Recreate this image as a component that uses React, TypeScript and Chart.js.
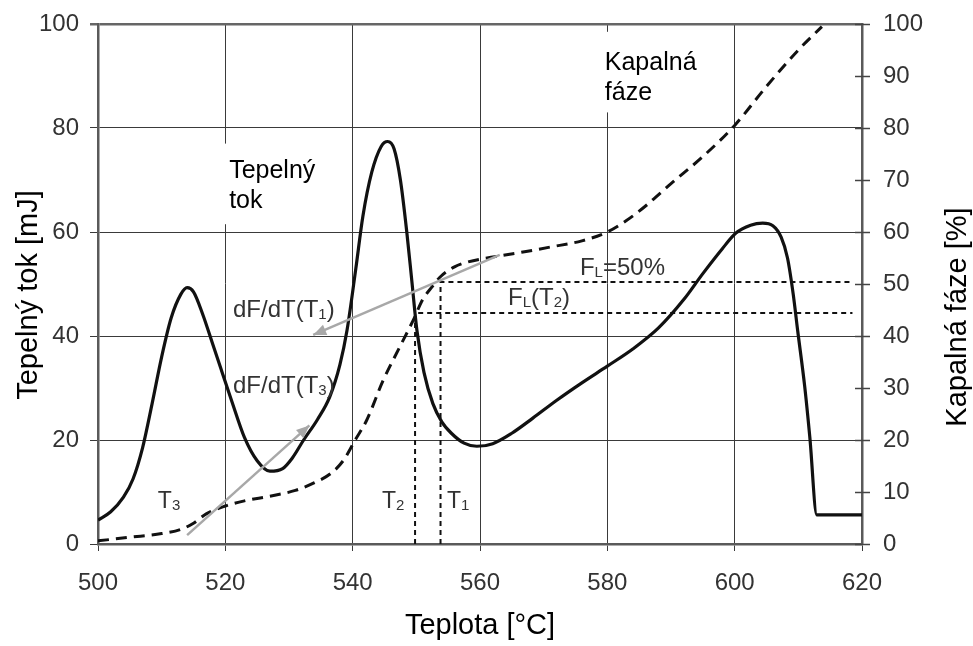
import React, { useEffect, useRef } from "react";
import { Chart, registerables } from "chart.js";
Chart.register(...registerables);

// Tepelný tok (heat flow) curve, left axis [mJ]
const heatTemp = [500, 502, 504, 505.5, 507, 508.5, 510, 511.5, 513, 514, 515, 516.5, 518, 519.5, 521, 523, 525, 527, 529, 530.5, 532.3, 534.5, 536.4, 538, 539.1, 540.5, 541.6, 543, 544.5, 545.5, 546.5, 547.5, 548.5, 549.3, 550.1, 551.2, 552.6, 554, 555.5, 557.5, 559.5, 562, 565, 568.3, 572, 576, 580, 584, 588, 592, 595, 598, 600.2, 602.5, 604.4, 606, 607.3, 608.3, 609.2, 609.9, 611, 611.8, 612.9, 620];
const heatFlow = [4.6, 6.2, 9, 12.5, 18.5, 27, 36, 43.5, 48, 49.3, 48.5, 44, 38.5, 33, 27.5, 20.5, 16, 14, 14.5, 16.5, 20, 24, 28.3, 34.5, 41, 53, 63, 71.5, 76.5, 77.4, 76, 70, 60, 50.5, 41, 33, 27, 23.5, 21.3, 19.4, 18.8, 19.3, 21.3, 24.2, 27.6, 31, 34.2, 37.5, 41.5, 47, 52, 56.7, 59.8, 61.3, 61.7, 61.2, 59, 55, 48, 41, 30.3, 20.6, 5.6, 5.6];

// Kapalná fáze (liquid fraction) curve, right axis [%]
const liquidTemp = [500, 505, 510, 513, 515, 517, 520, 523, 527, 531, 534, 536.5, 538.5, 540.4, 542.2, 544.8, 547.4, 549.5, 551, 552.5, 553.7, 556, 558, 563, 567, 571, 576, 580, 583, 586, 590, 595, 600, 605, 610, 613.7];
const liquidFrac = [0.6, 1.3, 2, 2.8, 4, 5.8, 7.3, 8.3, 9.2, 10.3, 11.8, 13.5, 16, 20, 23.8, 31.5, 37.9, 43, 47, 49.5, 51.3, 53.3, 54.2, 55.4, 56.2, 57.1, 58.3, 60, 62.2, 65, 69.3, 74.5, 80.5, 88, 95, 99.5];

// characteristic temperatures and fractions
const T1 = 553.8;
const T2 = 549.8;
const FL50 = 50.4;
const FLT2 = 44.4;
const refLineEnd = 618.5;

// tangent arrows [tail, tip]
const tangentT1 = [{ x: 563.1, y: 55.6 }, { x: 533.8, y: 40.2 }];
const tangentT3 = [{ x: 514, y: 1.7 }, { x: 533.2, y: 22.8 }];

const xTicks = [500, 520, 540, 560, 580, 600, 620];
const leftTicks = [0, 20, 40, 60, 80, 100];
const rightTicks = [0, 10, 20, 30, 40, 50, 60, 70, 80, 90, 100];

const xTitle = "Teplota [°C]";
const leftTitle = "Tepelný tok [mJ]";
const rightTitle = "Kapalná fáze [%]";

const FONT = '"Liberation Sans", Arial, Helvetica, sans-serif';

type Part = { t: string; sub?: boolean };
type Note = { x: number; y: number; parts: Part[]; size: number; color: string };

const notes: Note[] = [
  { x: 520.6, y: 70.4, parts: [{ t: "Tepelný" }], size: 25, color: "#000" },
  { x: 520.6, y: 64.6, parts: [{ t: "tok" }], size: 25, color: "#000" },
  { x: 579.6, y: 91.2, parts: [{ t: "Kapalná" }], size: 25, color: "#000" },
  { x: 579.6, y: 85.4, parts: [{ t: "fáze" }], size: 25, color: "#000" },
  { x: 521.2, y: 43.7, parts: [{ t: "dF/dT(T" }, { t: "1", sub: true }, { t: ")" }], size: 24, color: "#333" },
  { x: 521.2, y: 29.0, parts: [{ t: "dF/dT(T" }, { t: "3", sub: true }, { t: ")" }], size: 24, color: "#333" },
  { x: 509.4, y: 6.9, parts: [{ t: "T" }, { t: "3", sub: true }], size: 23, color: "#333" },
  { x: 544.6, y: 6.9, parts: [{ t: "T" }, { t: "2", sub: true }], size: 23, color: "#333" },
  { x: 554.8, y: 6.9, parts: [{ t: "T" }, { t: "1", sub: true }], size: 23, color: "#333" },
  { x: 575.7, y: 51.7, parts: [{ t: "F" }, { t: "L", sub: true }, { t: "=50%" }], size: 24, color: "#333" },
  { x: 564.4, y: 46.0, parts: [{ t: "F" }, { t: "L", sub: true }, { t: "(T" }, { t: "2", sub: true }, { t: ")" }], size: 24, color: "#333" },
];

// white boxes behind the two main labels (data coords: x0,x1,y0,y1)
const labelBoxes = [
  [519.5, 536.5, 61.5, 77],
  [579.0, 595.0, 83.0, 98.5],
];

function drawParts(ctx: CanvasRenderingContext2D, x: number, y: number, parts: Part[], size: number, color: string) {
  ctx.save();
  ctx.fillStyle = color;
  ctx.textBaseline = "alphabetic";
  ctx.textAlign = "left";
  let cx = x;
  for (const p of parts) {
    const s = p.sub ? Math.round(size * 0.64) : size;
    ctx.font = `${s}px ${FONT}`;
    ctx.fillText(p.t, cx, p.sub ? y + 2 : y);
    cx += ctx.measureText(p.t).width;
  }
  ctx.restore();
}

const decorPlugin = {
  id: "decor",
  beforeDatasetsDraw(chart: any) {
    const { ctx, scales } = chart;
    ctx.save();
    ctx.fillStyle = "#fff";
    for (const b of labelBoxes) {
      const x0 = scales.x.getPixelForValue(b[0]);
      const x1 = scales.x.getPixelForValue(b[1]);
      const y0 = scales.y.getPixelForValue(b[3]);
      const y1 = scales.y.getPixelForValue(b[2]);
      ctx.fillRect(x0, y0, x1 - x0, y1 - y0);
    }
    ctx.restore();
  },
  afterDatasetsDraw(chart: any) {
    const { ctx, scales, chartArea } = chart;
    // arrowheads
    for (const a of [tangentT1, tangentT3]) {
      const tx = scales.x.getPixelForValue(a[1].x);
      const ty = scales.y.getPixelForValue(a[1].y);
      const sx = scales.x.getPixelForValue(a[0].x);
      const sy = scales.y.getPixelForValue(a[0].y);
      const ang = Math.atan2(ty - sy, tx - sx);
      const L = 13, W = 5.5;
      ctx.save();
      ctx.fillStyle = "#a8a8a8";
      ctx.beginPath();
      ctx.moveTo(tx, ty);
      ctx.lineTo(tx - L * Math.cos(ang) + W * Math.sin(ang), ty - L * Math.sin(ang) - W * Math.cos(ang));
      ctx.lineTo(tx - L * Math.cos(ang) - W * Math.sin(ang), ty - L * Math.sin(ang) + W * Math.cos(ang));
      ctx.closePath();
      ctx.fill();
      ctx.restore();
    }
    // right axis ticks crossing the axis
    ctx.save();
    ctx.strokeStyle = "#444";
    ctx.lineWidth = 1.5;
    for (const v of rightTicks) {
      const py = Math.round(scales.y2.getPixelForValue(v)) + 0.5;
      ctx.beginPath();
      ctx.moveTo(chartArea.right - 7, py);
      ctx.lineTo(chartArea.right + 8, py);
      ctx.stroke();
    }
    ctx.restore();
    // notes
    for (const n of notes) {
      drawParts(ctx, scales.x.getPixelForValue(n.x), scales.y.getPixelForValue(n.y), n.parts, n.size, n.color);
    }
    // axis titles
    ctx.save();
    ctx.fillStyle = "#000";
    ctx.font = `29px ${FONT}`;
    ctx.textAlign = "center";
    ctx.textBaseline = "alphabetic";
    ctx.fillText(xTitle, (chartArea.left + chartArea.right) / 2, 634);
    ctx.save();
    ctx.translate(37, 295);
    ctx.rotate(-Math.PI / 2);
    ctx.fillText(leftTitle, 0, 0);
    ctx.restore();
    ctx.save();
    ctx.translate(966, 317);
    ctx.rotate(-Math.PI / 2);
    ctx.fillText(rightTitle, 0, 0);
    ctx.restore();
    ctx.restore();
  },
};

export default function App() {
  const ref = useRef<HTMLCanvasElement>(null);
  useEffect(() => {
    if (!ref.current) return;
    const heat = heatTemp.map((t, i) => ({ x: t, y: heatFlow[i] }));
    const liquid = liquidTemp.map((t, i) => ({ x: t, y: liquidFrac[i] }));
    const chart = new Chart(ref.current, {
      type: "line",
      data: {
        datasets: [
          { data: heat, borderColor: "#111", borderWidth: 3.2, cubicInterpolationMode: "monotone", yAxisID: "y", order: 1 },
          { data: liquid, borderColor: "#111", borderWidth: 3, borderDash: [11, 7], cubicInterpolationMode: "monotone", yAxisID: "y2", order: 2 },
          { data: [{ x: T2, y: 0 }, { x: T2, y: FLT2 }, { x: refLineEnd, y: FLT2 }], borderColor: "#111", borderWidth: 2, borderDash: [5, 4], tension: 0, yAxisID: "y2", order: 3 },
          { data: [{ x: T1, y: 0 }, { x: T1, y: FL50 }, { x: refLineEnd, y: FL50 }], borderColor: "#111", borderWidth: 2, borderDash: [5, 4], tension: 0, yAxisID: "y2", order: 3 },
          { data: tangentT1, borderColor: "#a8a8a8", borderWidth: 2.5, tension: 0, yAxisID: "y", order: 0 },
          { data: tangentT3, borderColor: "#a8a8a8", borderWidth: 2.5, tension: 0, yAxisID: "y", order: 0 },
        ],
      },
      options: {
        responsive: false,
        animation: false,
        events: [],
        layout: { padding: { top: 24, left: 0, right: 0, bottom: 0 } },
        elements: { point: { radius: 0 }, line: { fill: false, borderCapStyle: "butt" } },
        plugins: { legend: { display: false }, tooltip: { enabled: false }, title: { display: false } },
        scales: {
          x: {
            type: "linear",
            min: 500,
            max: 620,
            afterBuildTicks: (s: any) => { s.ticks = xTicks.map((v) => ({ value: v })); },
            afterFit: (s: any) => { s.height = 102; },
            ticks: { color: "#333", font: { family: FONT, size: 24 }, padding: 18, maxRotation: 0 },
            grid: { color: "#3a3a3a", lineWidth: 1, tickLength: 7, drawTicks: true },
            border: { display: true, color: "#5a5a5a", width: 2.5 },
          },
          y: {
            position: "left",
            min: 0,
            max: 100,
            afterBuildTicks: (s: any) => { s.ticks = leftTicks.map((v) => ({ value: v })); },
            afterFit: (s: any) => { s.width = 98; },
            ticks: { color: "#333", font: { family: FONT, size: 24, lineHeight: 0.8 }, padding: 11 },
            grid: {
              color: (c: any) => (c.tick && c.tick.value === 100 ? "#666" : "#3a3a3a"),
              lineWidth: (c: any) => (c.tick && c.tick.value === 100 ? 2.5 : 1),
              tickLength: 8,
            },
            border: { display: true, color: "#5a5a5a", width: 2.5 },
          },
          y2: {
            position: "right",
            min: 0,
            max: 100,
            afterBuildTicks: (s: any) => { s.ticks = rightTicks.map((v) => ({ value: v })); },
            afterFit: (s: any) => { s.width = 111; },
            ticks: { color: "#333", font: { family: FONT, size: 24, lineHeight: 0.8 }, padding: 13 },
            grid: { drawOnChartArea: false, drawTicks: true, tickLength: 8, color: "rgba(0,0,0,0)" },
            border: { display: true, color: "#5a5a5a", width: 2.5 },
          },
        },
      },
      plugins: [decorPlugin],
    } as any);
    return () => chart.destroy();
  }, []);
  return (
    <div style={{ position: "fixed", left: 0, top: 0, width: 973, height: 646, background: "#fff" }}>
      <canvas ref={ref} width={973} height={646} style={{ display: "block", width: 973, height: 646 }} />
    </div>
  );
}
